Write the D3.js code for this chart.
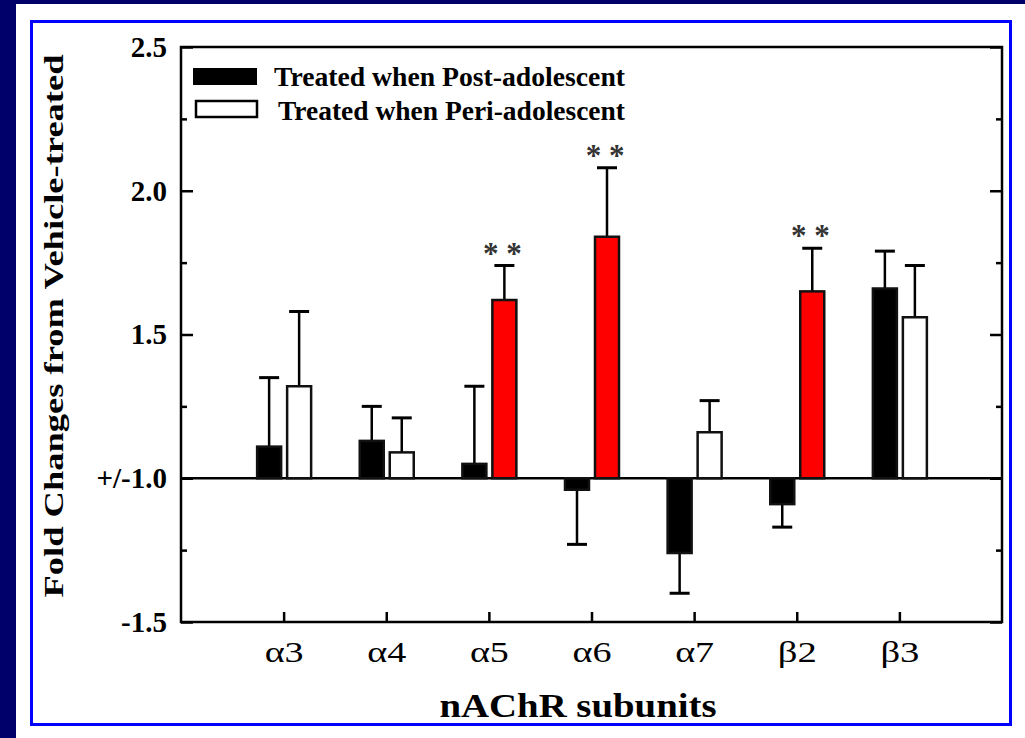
<html>
<head>
<script src="https://d3js.org/d3.v7.min.js"></script>
<style>
    body { margin: 0; background: #00006b; }
    svg text { font-family: "Liberation Serif", "Times New Roman", serif; }
    .axis .domain { stroke: none; }
    .axis line { stroke: #000; stroke-width: 2.5; }
</style>
</head>
<body>
<svg id="chart" width="1025" height="738"></svg>
<script>
    // data (fold change, error bar = SEM)
    const subunits = ["α3", "α4", "α5", "α6", "α7", "β2", "β3"];
    const postMean = [1.11, 1.13, 1.05, -1.04, -1.26, -1.09, 1.66];
    const postSE   = [0.24, 0.12, 0.27, 0.19, 0.14, 0.08, 0.13];
    const periMean = [1.32, 1.09, 1.62, 1.84, 1.16, 1.65, 1.56];
    const periSE   = [0.26, 0.12, 0.12, 0.24, 0.11, 0.15, 0.18];
    const periSig  = [false, false, true, true, false, true, false];
    const yTickValues = [2.5, 2.0, 1.5, 1.0, -1.5];
    const yTickLabels = ["2.5", "2.0", "1.5", "+/-1.0", "-1.5"];
    const yMinorValues = [2.25, 1.75, 1.25, -1.25];
    const seriesNames = ["Treated when Post-adolescent", "Treated when Peri-adolescent"];

    const svg = d3.select("svg#chart");
    const width = +svg.attr("width");
    const height = +svg.attr("height");
    const margin = {top: 47, right: 23, bottom: 116, left: 181};
    const chartWidth = width - margin.left - margin.right;
    const chartHeight = height - margin.top - margin.bottom;

    // white panel + blue frame
    svg.append("rect").attr("x", 16).attr("y", 4).attr("width", width - 16).attr("height", height - 4)
        .attr("fill", "white");
    svg.append("rect").attr("x", 31.5).attr("y", 21.5).attr("width", 979).attr("height", 703)
        .attr("fill", "none").attr("stroke", "#0000ff").attr("stroke-width", 3);

    // fold changes: +x above the +/-1 line, -x below it
    const fold = v => v > 0 ? v - 1 : v + 1;
    const yScale = d3.scaleLinear().domain([-0.5, 1.5]).range([chartHeight, 0]);
    const y = v => yScale(fold(v));
    const xScale = d3.scaleLinear().domain([0, subunits.length + 1]).range([0, chartWidth]);
    const barW = 24;
    const offPost = -14.5, offPeri = 15.5;

    let chartArea = svg.append("g").attr("transform", `translate(${margin.left},${margin.top})`);

    // axes (ticks pointing inward)
    let leftAxis = d3.axisLeft(yScale).tickValues(yTickValues.map(fold))
        .tickFormat((d, i) => yTickLabels[i]).tickSizeInner(-12).tickSizeOuter(0).tickPadding(14);
    chartArea.append("g").attr("class", "axis").call(leftAxis)
        .selectAll("text").style("font-size", "29px").style("font-weight", "bold").attr("fill", "#000");
    chartArea.append("g").attr("class", "axis")
        .call(d3.axisLeft(yScale).tickValues(yMinorValues.map(fold)).tickFormat("").tickSizeInner(-6).tickSizeOuter(0));

    chartArea.append("g").attr("class", "axis").attr("transform", `translate(${chartWidth},0)`)
        .call(d3.axisRight(yScale).tickValues(yTickValues.map(fold)).tickFormat("").tickSizeInner(-12).tickSizeOuter(0));
    chartArea.append("g").attr("class", "axis").attr("transform", `translate(${chartWidth},0)`)
        .call(d3.axisRight(yScale).tickValues(yMinorValues.map(fold)).tickFormat("").tickSizeInner(-6).tickSizeOuter(0));

    let bottomAxis = d3.axisBottom(xScale).tickValues(d3.range(1, subunits.length + 1))
        .tickFormat(d => subunits[d - 1]).tickSizeInner(-10).tickSizeOuter(0).tickPadding(19);
    chartArea.append("g").attr("class", "axis").attr("transform", `translate(0,${chartHeight})`)
        .call(bottomAxis)
        .selectAll("text").style("font-size", "30px").attr("fill", "#000")
        .attr("textLength", 39).attr("lengthAdjust", "spacingAndGlyphs");

    // +/-1.0 baseline
    chartArea.append("line").attr("x1", 0).attr("x2", chartWidth)
        .attr("y1", y(1)).attr("y2", y(1)).attr("stroke", "#000").attr("stroke-width", 2.5);

    const data = subunits.map((s, i) => ({
        i: i,
        post: postMean[i], postSE: postSE[i],
        peri: periMean[i], periSE: periSE[i], sig: periSig[i]
    }));

    function drawSeries(key, seKey, off, fillFn) {
        const g = chartArea.append("g");
        // error bars (one-sided, away from the baseline)
        data.forEach(d => {
            const v = d[key], e = v > 0 ? v + d[seKey] : v - d[seKey];
            const cx = xScale(d.i + 1) + off;
            g.append("line").attr("x1", cx).attr("x2", cx).attr("y1", y(v)).attr("y2", y(e))
                .attr("stroke", "#000").attr("stroke-width", 2.5);
            g.append("line").attr("x1", cx - 10).attr("x2", cx + 10).attr("y1", y(e)).attr("y2", y(e))
                .attr("stroke", "#000").attr("stroke-width", 3);
            if (key === "peri" && d.sig) {
                g.append("text").attr("x", cx - 2).attr("y", y(e) - 2)
                    .attr("text-anchor", "middle").style("font-weight", "bold")
                    .style("font-size", "31px").attr("fill", "#333")
                    .attr("xml:space", "preserve").text("* *");
            }
        });
        g.selectAll("rect").data(data).join("rect")
            .attr("x", d => xScale(d.i + 1) + off - barW / 2)
            .attr("width", barW)
            .attr("y", d => Math.min(y(d[key]), y(1)))
            .attr("height", d => Math.abs(y(d[key]) - y(1)))
            .attr("fill", fillFn)
            .attr("stroke", "#111").attr("stroke-width", 2.5);
    }
    drawSeries("post", "postSE", offPost, d => "#000");
    drawSeries("peri", "periSE", offPeri, d => d.sig ? "#ff0000" : "#fff");

    // frame
    chartArea.append("rect").attr("width", chartWidth).attr("height", chartHeight)
        .attr("fill", "none").attr("stroke", "#000").attr("stroke-width", 2.5);

    // legend
    let legend = svg.append("g");
    legend.append("rect").attr("x", 193).attr("y", 68).attr("width", 64).attr("height", 17).attr("fill", "#000");
    legend.append("rect").attr("x", 196).attr("y", 101).attr("width", 61).attr("height", 16)
        .attr("fill", "#fff").attr("stroke", "#000").attr("stroke-width", 2.5);
    legend.append("text").attr("x", 274).attr("y", 86).style("font-size", "27px").style("font-weight", "bold")
        .attr("textLength", 351).attr("lengthAdjust", "spacingAndGlyphs").text(seriesNames[0]);
    legend.append("text").attr("x", 278).attr("y", 120).style("font-size", "27px").style("font-weight", "bold")
        .attr("textLength", 347).attr("lengthAdjust", "spacingAndGlyphs").text(seriesNames[1]);

    // axis titles
    svg.append("text").attr("x", 578).attr("y", 717).attr("text-anchor", "middle")
        .style("font-size", "33px").style("font-weight", "bold")
        .attr("textLength", 277).attr("lengthAdjust", "spacingAndGlyphs").text("nAChR subunits");
    svg.append("text").attr("transform", `translate(63, 326) scale(0.8,1) rotate(-90)`).attr("text-anchor", "middle")
        .style("font-size", "35px").style("font-weight", "bold")
        .attr("textLength", 543).attr("lengthAdjust", "spacingAndGlyphs").text("Fold Changes from Vehicle-treated");
</script>
</body>
</html>
